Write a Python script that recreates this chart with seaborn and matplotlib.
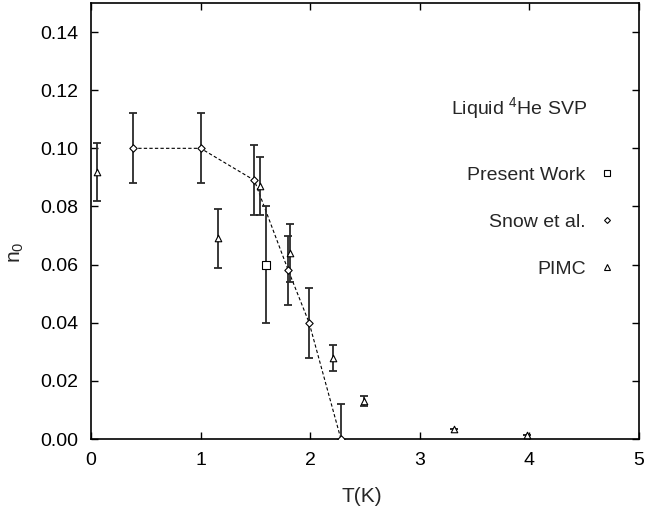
import matplotlib
matplotlib.use("Agg")
import matplotlib.pyplot as plt
import seaborn as sns
import pandas as pd
from matplotlib.lines import Line2D

# Data
present_T = [1.60]
present_n = [0.060]
present_err = [0.020]

snow_T = [0.38, 1.00, 1.49, 1.80, 1.99, 2.28]
snow_n = [0.100, 0.100, 0.089, 0.058, 0.040, 0.000]
snow_err = [0.012, 0.012, 0.012, 0.012, 0.012, 0.012]

pimc_T = [0.05, 1.16, 1.54, 1.82, 2.21, 2.49, 3.31, 3.98]
pimc_n = [0.092, 0.069, 0.087, 0.064, 0.028, 0.013, 0.0033, 0.0015]
pimc_err = [0.010, 0.010, 0.010, 0.010, 0.0045, 0.0017, 0.0, 0.0]

labels = ["Present Work", "Snow et al.", "PIMC"]

sns.set_theme(style="ticks")
plt.rcParams["font.family"] = ["Liberation Sans", "DejaVu Sans"]
plt.rcParams["mathtext.fontset"] = "custom"
plt.rcParams["mathtext.rm"] = "Liberation Sans"
plt.rcParams["mathtext.it"] = "Liberation Sans"

fig = plt.figure(figsize=(6.47, 5.14), dpi=100)
ax = fig.add_axes([0.1407, 0.1459, 0.8469, 0.8483])

snow_df = pd.DataFrame({"T": snow_T, "n": snow_n})
present_df = pd.DataFrame({"T": present_T, "n": present_n})
pimc_df = pd.DataFrame({"T": pimc_T, "n": pimc_n})

# dashed line through Snow et al.
sns.lineplot(data=snow_df, x="T", y="n", ax=ax, color="black", lw=0.8,
             linestyle=(0, (3, 2)), sort=False, legend=False)

ebkw = dict(fmt="none", ecolor="#2a2a2a", elinewidth=1.3, capsize=3, capthick=1.3)
ax.errorbar(snow_T, snow_n, yerr=snow_err, **ebkw)
ax.errorbar(present_T, present_n, yerr=present_err, **ebkw)
ax.errorbar(pimc_T, pimc_n, yerr=pimc_err, **ebkw)

mk = dict(facecolor="white", edgecolor="black", linewidth=0.8, legend=False, zorder=5)
sns.scatterplot(data=present_df, x="T", y="n", marker="s", s=28, ax=ax, **mk)
sns.scatterplot(data=snow_df, x="T", y="n", marker="D", s=14, ax=ax, **mk)
sns.scatterplot(data=pimc_df, x="T", y="n", marker="^", s=22, ax=ax, **mk)

ax.set_xlim(0, 5)
ax.set_ylim(0, 0.15)
ax.set_xticks([0, 1, 2, 3, 4, 5])
ax.set_yticks([0.00, 0.02, 0.04, 0.06, 0.08, 0.10, 0.12, 0.14])
ax.set_yticklabels(["0.00", "0.02", "0.04", "0.06", "0.08", "0.10", "0.12", "0.14"])
ax.tick_params(direction="in", length=5, width=1, labelsize=14, colors="black",
               top=True, right=True, pad=9)
for s in ax.spines.values():
    s.set_linewidth(1.2)
    s.set_color("black")

ax.set_xlabel("T(K)", fontsize=15)
ax.set_ylabel("n$_0$", fontsize=15)
ax.xaxis.set_label_coords(0.495, -0.11)
ax.yaxis.set_label_coords(-0.118, 0.429)

ax.text(0.905, 0.759, "Liquid $^4$He SVP", transform=ax.transAxes, ha="right",
        va="center", fontsize=14)

handles = [
    Line2D([], [], marker="s", ls="none", mfc="white", mec="black", ms=4, mew=0.8),
    Line2D([], [], marker="D", ls="none", mfc="white", mec="black", ms=3, mew=0.8),
    Line2D([], [], marker="^", ls="none", mfc="white", mec="black", ms=4, mew=0.8),
]
ax.legend(handles, labels, markerfirst=False, frameon=False, fontsize=14,
          loc="upper right", bbox_to_anchor=(0.995, 0.665), labelspacing=1.5,
          handletextpad=0.5, handlelength=1.2)

fig.savefig("out.png", dpi=100)
